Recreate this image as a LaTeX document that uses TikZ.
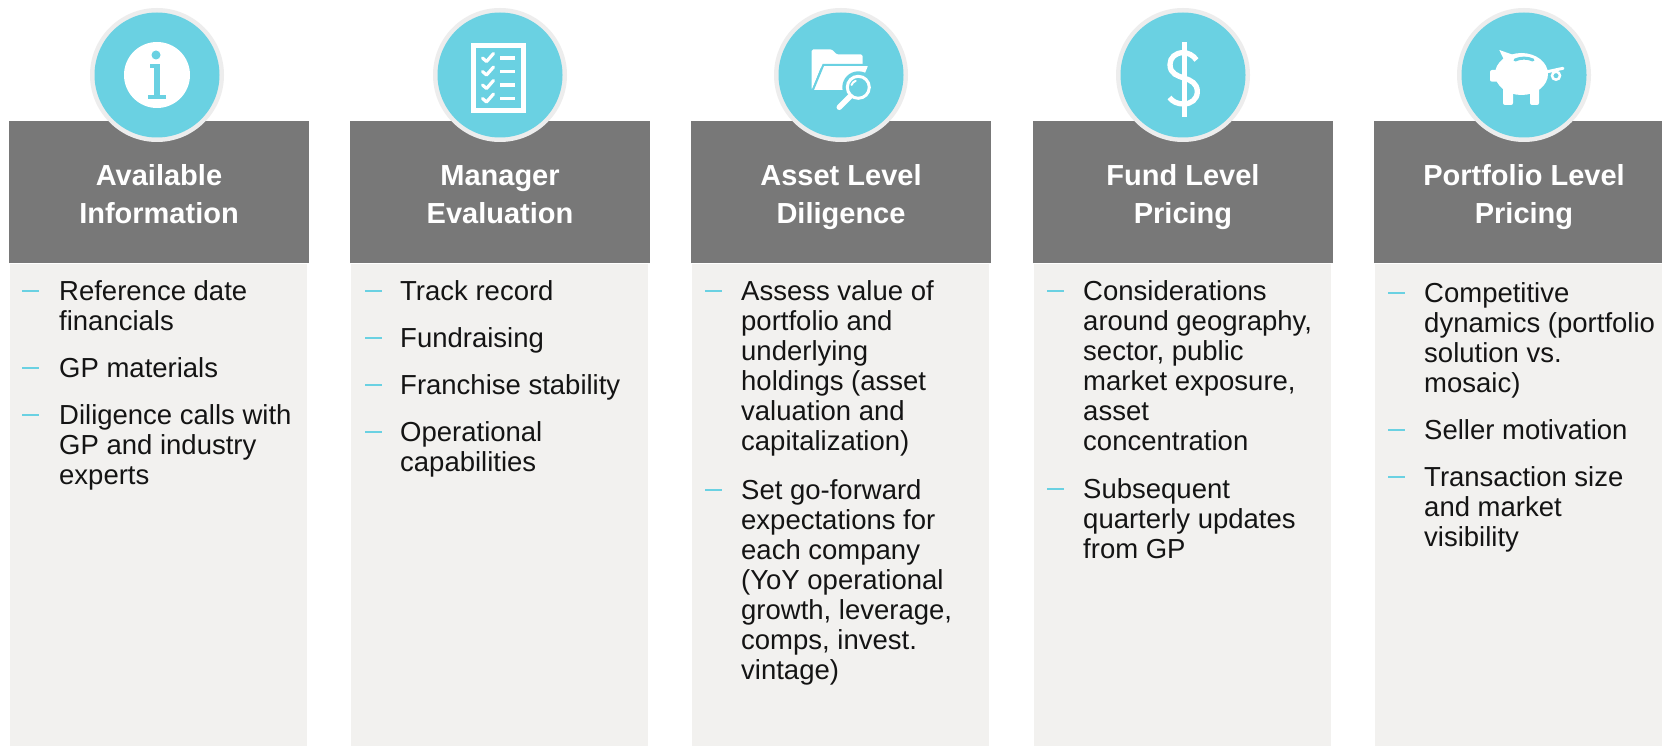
\documentclass[tikz,border=0pt]{standalone}
\usepackage{fontspec}
\setmainfont{Liberation Sans}
\definecolor{hdr}{HTML}{787878}
\definecolor{bodybg}{HTML}{F2F1EF}
\definecolor{cyanc}{HTML}{6AD1E2}
\definecolor{rimc}{HTML}{EDEDED}
\definecolor{ink}{HTML}{141414}
\newcommand\bodyfont{\fontsize{27.5}{30}\selectfont}
\newcommand\hdrfont{\fontsize{29}{38}\selectfont\bfseries}
\newcommand\firststrut{\rule{0pt}{22pt}}
\tikzset{
  hdrbox/.style={fill=hdr},
  bodybox/.style={fill=bodybg},
  titletext/.style={anchor=north, inner sep=0pt, align=center, text=white, font=\hdrfont},
  itemtext/.style={anchor=north west, inner sep=0pt, align=left, text=ink, font=\bodyfont},
  dashmark/.style={draw=cyanc, line width=2pt},
  rimdisc/.style={circle, fill=rimc, minimum size=134pt, inner sep=0pt},
  icondisc/.style={circle, fill=cyanc, minimum size=125pt, inner sep=0pt},
  whiteline/.style={draw=white, line cap=round, line join=round},
  cyanline/.style={draw=cyanc, line cap=round, line join=round}
}
\begin{document}
\begin{tikzpicture}[x=1pt,y=-1pt]
\useasboundingbox (0,0) rectangle (1662,746);
\fill[white] (0,0) rectangle (1662,746);

% ---------- panels ----------
\foreach \xo in {9,350,691,1033,1374}{
  \fill[bodybox] (\xo+1,264) rectangle (\xo+298,746);
  \fill[hdrbox] (\xo,121) rectangle (\xo+300,263);
}

% ---------- icon discs ----------
\node[rimdisc] (r1) at (157,75) {};
\node[icondisc] (d1) at (157,75) {};
\node[rimdisc] (r2) at (500,75) {};
\node[icondisc] (d2) at (500,75) {};
\node[rimdisc] (r3) at (841,75) {};
\node[icondisc] (d3) at (841,75) {};
\node[rimdisc] (r4) at (1183,75) {};
\node[icondisc] (d4) at (1183,75) {};
\node[rimdisc] (r5) at (1524,75) {};
\node[icondisc] (d5) at (1524,75) {};

% icon 1: info
\begin{scope}[shift={(d1.center)}]
  \fill[white] (0,0) circle (33);
  \fill[cyanc] (-1,-20) circle (4.5);
  \fill[cyanc] (-7.3,-11) rectangle (3,-6.5);
  \fill[cyanc] (-3,-11) rectangle (3,22);
  \fill[cyanc] (-8.6,20) rectangle (9.4,24.5);
\end{scope}

% icon 2: checklist
\begin{scope}[shift={(d2.center)}]
  \draw[white, line width=5pt] (-26.5,-29.5) rectangle (23.5,36);
  \foreach \yy in {-17,-3.5,10,23.5}{
    \draw[whiteline, line width=3.2pt] (-17.5,\yy) -- (-13.5,\yy+3.5) -- (-6.5,\yy-4.5);
    \fill[white] (0,\yy-1.8) rectangle (15,\yy+1.8);
  }
\end{scope}

% icon 3: folder with magnifier
\begin{scope}[shift={(d3.center)}]
  \fill[white, rounded corners=1.5pt] (-29.3,-25.7) -- (-9.3,-25.7) -- (-4.3,-20.5) -- (21.7,-20.5) -- (21.7,-8) -- (-20,-8) -- (-29.3,15) -- cycle;
  \fill[white, rounded corners=1.5pt] (-17.7,-10) -- (27.3,-10) -- (17,15) -- (-28.3,15) -- cycle;
  \draw[cyanc, line width=2pt] (27.3,-10) -- (-17.7,-10) -- (-28.3,15.5);
  \fill[cyanc] (17.3,12.3) circle (16);
  \draw[white, line width=3pt] (17.3,12.3) circle (11);
  \draw[whiteline, line width=2pt] (10.5,10) arc[start angle=200, end angle=250, radius=7];
  \draw[whiteline, line width=5.5pt] (9.3,21.3) -- (-1.7,32.3);
\end{scope}

% icon 4: dollar
\begin{scope}[shift={(d4.center)}]
  \draw[white, line width=4.5pt] (1.3,-33) -- (1.3,41.7);
  \draw[white, line width=5.3pt] (13.5,-15) .. controls (10,-20) and (5,-22.3) .. (0,-22.3)
     .. controls (-7.5,-22.3) and (-13,-17.5) .. (-13,-10.5)
     .. controls (-13,-1) and (-5,1) .. (1,3)
     .. controls (8,5.3) and (14.3,8.5) .. (14.3,16.5)
     .. controls (14.3,24.5) and (8,29) .. (0.5,29)
     .. controls (-6,29) and (-10.5,26.5) .. (-13.5,22.5);
\end{scope}

% icon 5: piggy bank
\begin{scope}[shift={(d5.center)}]
  \fill[white] (-2.5,-1) ellipse (26.5 and 21);
  \fill[white, rounded corners=2pt] (-34,-5) rectangle (-25,6.7);
  \fill[white] (-24.7,-25) -- (-9,-19.5) -- (-19,-13) -- cycle;
  \fill[white, rounded corners=2pt] (-21,8) rectangle (-11,30);
  \fill[white, rounded corners=2pt] (6,8) rectangle (15,30);
  \draw[cyanline, line width=3pt] (-9,-15) .. controls (-3,-17.5) and (3,-17.5) .. (9,-15);
  \draw[whiteline, line width=3pt] (22,-3) -- (39,-6.7);
  \draw[white, fill=cyanc, line width=2.5pt] (32,0.7) circle (4);
\end{scope}

% ---------- titles ----------
\node[titletext] (t1) at (159,163) {\firststrut Available\\Information};
\node[titletext] (t2) at (500,163) {\firststrut Manager\\Evaluation};
\node[titletext] (t3) at (841,163) {\firststrut Asset Level\\Diligence};
\node[titletext] (t4) at (1183,163) {\firststrut Fund Level\\Pricing};
\node[titletext] (t5) at (1524,163) {\firststrut Portfolio Level\\Pricing};

% ---------- column 1 ----------
\node[itemtext] (c1a) at (59,278) {\firststrut Reference date\\financials};
\node[itemtext] (c1b) at (59,355) {\firststrut GP materials};
\node[itemtext] (c1c) at (59,402) {\firststrut Diligence calls with\\GP and industry\\experts};
\foreach \b in {300,377,424}{ \draw[dashmark] (22,\b-9) -- (39,\b-9); }

% ---------- column 2 ----------
\node[itemtext] (c2a) at (400,278) {\firststrut Track record};
\node[itemtext] (c2b) at (400,325) {\firststrut Fundraising};
\node[itemtext] (c2c) at (400,372) {\firststrut Franchise stability};
\node[itemtext] (c2d) at (400,419) {\firststrut Operational\\capabilities};
\foreach \b in {300,347,394,441}{ \draw[dashmark] (365,\b-9) -- (382,\b-9); }

% ---------- column 3 ----------
\node[itemtext] (c3a) at (741,278) {\firststrut Assess value of\\portfolio and\\underlying\\holdings (asset\\valuation and\\capitalization)};
\node[itemtext] (c3b) at (741,477) {\firststrut Set go-forward\\expectations for\\each company\\(YoY operational\\growth, leverage,\\comps, invest.\\vintage)};
\foreach \b in {300,499}{ \draw[dashmark] (705,\b-9) -- (722,\b-9); }

% ---------- column 4 ----------
\node[itemtext] (c4a) at (1083,278) {\firststrut Considerations\\around geography,\\sector, public\\market exposure,\\asset\\concentration};
\node[itemtext] (c4b) at (1083,476) {\firststrut Subsequent\\quarterly updates\\from GP};
\foreach \b in {300,498}{ \draw[dashmark] (1047,\b-9) -- (1064,\b-9); }

% ---------- column 5 ----------
\node[itemtext] (c5a) at (1424,280) {\firststrut Competitive\\dynamics (portfolio\\solution vs.\\mosaic)};
\node[itemtext] (c5b) at (1424,417) {\firststrut Seller motivation};
\node[itemtext] (c5c) at (1424,464) {\firststrut Transaction size\\and market\\visibility};
\foreach \b in {302,439,486}{ \draw[dashmark] (1388,\b-9) -- (1405,\b-9); }
\end{tikzpicture}
\end{document}
